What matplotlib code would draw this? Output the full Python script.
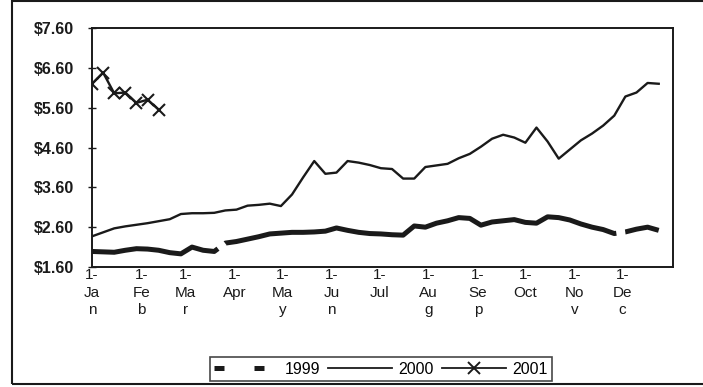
import numpy as np
import matplotlib
matplotlib.use("Agg")
import matplotlib.pyplot as plt
from matplotlib.lines import Line2D
from matplotlib.patches import Rectangle

plt.rcParams['font.family'] = ['Liberation Sans', 'DejaVu Sans']

# данные: недельные цены
weeks = np.arange(52) * 7          # день года для каждой недели
weeks_2001 = np.arange(7) * 7

price_1999 = [1.99, 1.98, 1.97, 2.02, 2.06, 2.05, 2.02, 1.96, 1.93, 2.10,
              2.02, 1.99, 2.20, 2.24, 2.30, 2.36, 2.43, 2.45, 2.47, 2.47,
              2.48, 2.50, 2.58, 2.52, 2.47, 2.44, 2.43, 2.41, 2.40, 2.63,
              2.60, 2.70, 2.76, 2.84, 2.82, 2.65, 2.73, 2.76, 2.79, 2.72,
              2.70, 2.86, 2.84, 2.78, 2.68, 2.60, 2.54, 2.44, 2.48, 2.55,
              2.60, 2.52]

price_2000 = [2.37, 2.47, 2.57, 2.62, 2.66, 2.70, 2.75, 2.80, 2.93, 2.95,
              2.95, 2.96, 3.02, 3.04, 3.14, 3.16, 3.19, 3.13, 3.42, 3.85,
              4.26, 3.94, 3.97, 4.26, 4.22, 4.16, 4.08, 4.06, 3.82, 3.82,
              4.11, 4.15, 4.19, 4.33, 4.44, 4.62, 4.82, 4.92, 4.85, 4.72,
              5.10, 4.75, 4.32, 4.55, 4.78, 4.95, 5.15, 5.40, 5.88, 5.98,
              6.22, 6.20]

price_2001 = [6.20, 6.48, 5.96, 5.98, 5.72, 5.80, 5.55]

month_days = [0, 31, 59, 90, 120, 151, 181, 212, 243, 273, 304, 334]
month_labels = ['1-\nJa\nn', '1-\nFe\nb', '1-\nMa\nr', '1-\nApr', '1-\nMa\ny',
                '1-\nJu\nn', '1-\nJul', '1-\nAu\ng', '1-\nSe\np', '1-\nOct',
                '1-\nNo\nv', '1-\nDe\nc']
y_ticks = [1.6, 2.6, 3.6, 4.6, 5.6, 6.6, 7.6]

ink = '#1a1a1a'

fig = plt.figure(figsize=(7.03, 3.87), dpi=100)
ax = fig.add_axes([92 / 703, 120 / 387, 581 / 703, 239 / 387])

# длинный штрих, разрывы только в паре мест, как на скане
ax.plot(weeks, price_1999, color=ink, lw=3.6, linestyle=(55, (81, 1.8)),
        solid_capstyle='butt', dash_capstyle='butt')
ax.plot(weeks, price_2000, color=ink, lw=1.7)
ax.plot(weeks_2001, price_2001, color=ink, lw=1.7, marker='x',
        markersize=8.5, markeredgewidth=1.5)

ax.set_xlim(0, 366)
ax.set_ylim(1.6, 7.6)
ax.set_yticks(y_ticks)
ax.set_yticklabels(['$%.2f' % v for v in y_ticks], fontsize=11.5,
                   fontweight='bold', color=ink)
ax.set_xticks(month_days)
ax.set_xticklabels(month_labels, fontsize=11, color=ink, linespacing=1.3,
                   va='top')
ax.tick_params(axis='y', direction='inout', length=6, width=1, pad=10, colors=ink)
ax.tick_params(axis='x', direction='out', length=0, pad=1, colors=ink)
for s in ax.spines.values():
    s.set_color(ink)
    s.set_linewidth(1.4)

# легенда
handles = [Line2D([], [], color=ink, lw=3.6, dashes=(2, 6), dash_capstyle='butt'),
           Line2D([], [], color=ink, lw=1.3),
           Line2D([], [], color=ink, lw=1.3, marker='x', markersize=8.5,
                  markeredgewidth=1.4)]
leg = fig.legend(handles, ['1999', '2000', '2001'], loc='center',
                 bbox_to_anchor=(381 / 703, 18 / 387), ncol=3, fontsize=11.5,
                 frameon=True, fancybox=False, handlelength=4.0,
                 handletextpad=0.4, columnspacing=0.5, borderpad=0.3)
leg.get_frame().set_edgecolor(ink)
leg.get_frame().set_linewidth(1.2)

# рамка вокруг всего графика (правый край за пределами картинки)
fig.patches.append(Rectangle((12 / 703, 3 / 387), 720 / 703, 383 / 387,
                             transform=fig.transFigure, fill=False,
                             edgecolor=ink, lw=1.5))

fig.savefig('out.png', dpi=100)
